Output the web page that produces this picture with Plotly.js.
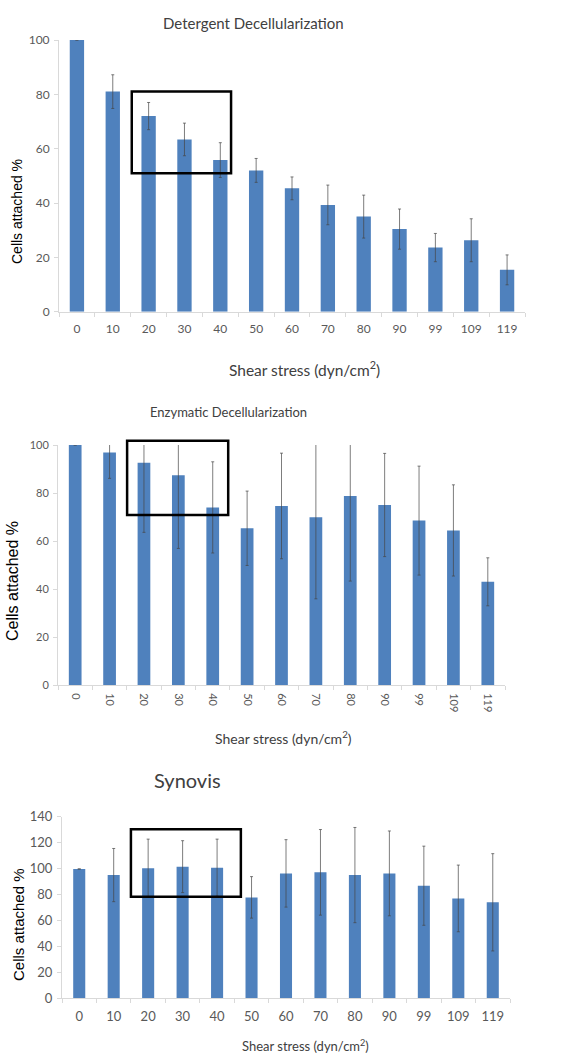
<!DOCTYPE html>
<html>
<head>
<meta charset="utf-8">
<script src="https://cdn.plot.ly/plotly-3.0.1.min.js"></script>
<style>html,body{margin:0;padding:0;background:#fff;}#chart{width:577px;height:1053px;}</style>
</head>
<body>
<div id="chart"></div>
<script>
// ---- data ----
var shearLabels = ["0","10","20","30","40","50","60","70","80","90","99","109","119"];
var detergentMean = [100, 81, 72, 63.4, 55.8, 52, 45.4, 39.3, 35, 30.4, 23.6, 26.3, 15.4];
var detergentErr  = [0, 6.2, 5, 6, 6.4, 4.4, 4.2, 7.3, 7.9, 7.4, 5.2, 7.9, 5.5];
var enzymaticMean = [100, 96.9, 92.6, 87.4, 74, 65.3, 74.6, 69.9, 78.7, 75, 68.5, 64.4, 43];
var enzymaticErr  = [0, 10.8, 29, 30.5, 19, 15.5, 22, 34, 35.4, 21.5, 22.7, 19, 10];
var synovisMean = [99.7, 95, 100.2, 101.5, 100.7, 77.8, 96.3, 97.1, 95, 96.3, 86.8, 77, 74];
var synovisErr  = [0, 20.5, 22.5, 20, 22, 16, 26, 33, 36.7, 32.7, 30.5, 25.7, 37.5];
var panelTitles = ["Detergent Decellularization", "Enzymatic Decellularization", "Synovis"];
var xTitle = "Shear stress (dyn/cm<sup>2</sup>)";
var yTitle = "Cells attached %";

var W = 577, H = 1053;
function px(x){ return x / W; }
function py(y){ return 1 - y / H; }

var barColor = "#4f81bd";
var errStyle = {type: "data", visible: true, color: "rgba(70,70,70,0.7)", thickness: 1, width: 1.5};

function mk(x, y, err, xa, ya, w){
  return {
    type: "bar", x: x, y: y, xaxis: xa, yaxis: ya, width: w,
    marker: {color: barColor, line: {width: 0}},
    error_y: Object.assign({array: err}, errStyle),
    hoverinfo: "skip", showlegend: false
  };
}

var data = [
  mk(shearLabels, detergentMean, detergentErr, "x", "y", 0.4),
  mk(shearLabels, enzymaticMean, enzymaticErr, "x2", "y2", 0.37),
  mk(shearLabels, synovisMean, synovisErr, "x3", "y3", 0.35)
];

var fam = "Lato, 'Open Sans', sans-serif";
var tickFont = {family: fam, size: 12, color: "#595959"};
function xax(dom, anchor, extra){
  return Object.assign({
    domain: dom, anchor: anchor, type: "category",
    showline: true, linecolor: "#d9d9d9", linewidth: 1,
    ticks: "outside", tickson: "boundaries", ticklen: 4, tickcolor: "#d9d9d9",
    showgrid: false, zeroline: false, tickfont: tickFont, fixedrange: true
  }, extra || {});
}
function yax(dom, anchor, range, dtick, extra){
  return Object.assign({
    domain: dom, anchor: anchor, range: range, dtick: dtick,
    showline: true, linecolor: "#d9d9d9", linewidth: 1,
    ticks: "outside", ticklen: 4, tickcolor: "#d9d9d9",
    showgrid: false, zeroline: false, tickfont: tickFont, fixedrange: true
  }, extra || {});
}

var layout = {
  width: W, height: H,
  margin: {l: 0, r: 0, t: 0, b: 0},
  paper_bgcolor: "#fff", plot_bgcolor: "#fff",
  showlegend: false,
  xaxis:  xax([px(59), px(525)], "y", {ticklabelstandoff: 6}),
  yaxis:  yax([py(311.7), py(40)], "x", [0, 100], 20, {ticklabelstandoff: 2}),
  xaxis2: xax([px(58), px(505)], "y2", {tickangle: 90, ticklabelstandoff: 5, tickfont: {family: fam, size: 11, color: "#595959"}}),
  yaxis2: yax([py(685), py(445)], "x2", [0, 100], 20, {ticklabelstandoff: 2, tickfont: {family: fam, size: 11, color: "#595959"}}),
  xaxis3: xax([px(62), px(510)], "y3", {ticklabelstandoff: 6, tickfont: {family: fam, size: 13, color: "#595959"}}),
  yaxis3: yax([py(998.3), py(816.7)], "x3", [0, 140], 20, {ticklabelstandoff: 2, tickfont: {family: fam, size: 13, color: "#595959"}}),
  shapes: [
    {type: "rect", xref: "x", yref: "y", x0: 1.53, x1: 4.3, y0: 51, y1: 81, line: {color: "#000", width: 2.5}},
    {type: "rect", xref: "x2", yref: "paper", x0: 1.51, x1: 4.45, y0: py(515), y1: py(440.7), line: {color: "#000", width: 2.5}},
    {type: "rect", xref: "x3", yref: "y3", x0: 1.5, x1: 4.69, y0: 78.3, y1: 130.3, line: {color: "#000", width: 2.5}}
  ],
  annotations: [
    {text: panelTitles[0], xref: "paper", yref: "paper", x: px(253), y: py(23), showarrow: false, xanchor: "center", yanchor: "middle",
     font: {family: fam, size: 15, color: "#404040"}},
    {text: panelTitles[1], xref: "paper", yref: "paper", x: px(228), y: py(412), showarrow: false, xanchor: "center", yanchor: "middle",
     font: {family: fam, size: 13, color: "#404040"}},
    {text: panelTitles[2], xref: "paper", yref: "paper", x: px(187), y: py(780), showarrow: false, xanchor: "center", yanchor: "middle",
     font: {family: fam, size: 20, color: "#404040"}},
    {text: xTitle, xref: "paper", yref: "paper", x: px(304), y: py(368), showarrow: false, xanchor: "center", yanchor: "middle",
     font: {family: fam, size: 15.5, color: "#404040"}},
    {text: xTitle, xref: "paper", yref: "paper", x: px(283), y: py(737), showarrow: false, xanchor: "center", yanchor: "middle",
     font: {family: fam, size: 14, color: "#404040"}},
    {text: xTitle, xref: "paper", yref: "paper", x: px(305), y: py(1045), showarrow: false, xanchor: "center", yanchor: "middle",
     font: {family: fam, size: 13, color: "#404040"}},
    {text: yTitle, xref: "paper", yref: "paper", x: px(17), y: py(212), showarrow: false, textangle: -90, xanchor: "center", yanchor: "middle",
     font: {family: "'Liberation Sans', Arial, sans-serif", size: 14, color: "#000"}},
    {text: yTitle, xref: "paper", yref: "paper", x: px(12), y: py(581), showarrow: false, textangle: -90, xanchor: "center", yanchor: "middle",
     font: {family: "'Liberation Sans', Arial, sans-serif", size: 16, color: "#000"}},
    {text: yTitle, xref: "paper", yref: "paper", x: px(18), y: py(925), showarrow: false, textangle: -90, xanchor: "center", yanchor: "middle",
     font: {family: "'Liberation Sans', Arial, sans-serif", size: 15, color: "#000"}}
  ]
};

Plotly.newPlot("chart", data, layout, {displayModeBar: false, staticPlot: true});
</script>
</body>
</html>
